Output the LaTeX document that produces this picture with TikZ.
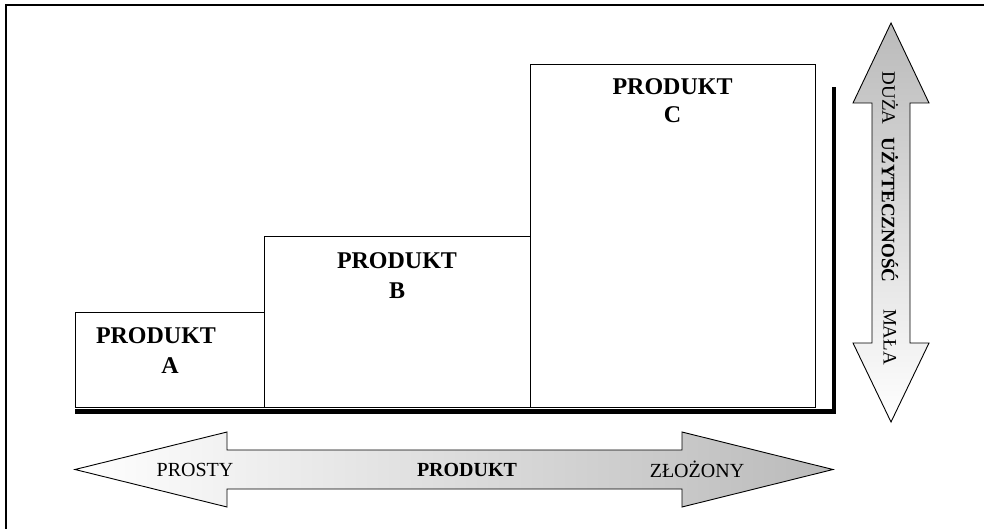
\documentclass[tikz,border=0pt]{standalone}
\usepackage{fontspec}
\setmainfont{Liberation Serif}
\usetikzlibrary{positioning}

\begin{document}
\begin{tikzpicture}[
  x=1pt, y=-1pt,
  prod/.style={draw, line width=0.9pt, inner sep=0pt, outer sep=0pt, anchor=south west},
  etyk/.style={anchor=north, inner sep=0pt, align=center, font=\fontsize{24}{30}\selectfont\bfseries},
  opis/.style={inner sep=0pt, font=\fontsize{20}{24}\selectfont},
  pion/.style={inner sep=0pt, rotate=-90, font=\fontsize{19}{22}\selectfont},
  strz/.style={draw, line width=0.9pt, line join=miter},
  os/.style={line width=4.5pt}
]
\useasboundingbox (0,0) rectangle (984,529);

% ramka (przycieta)
\draw[line width=1.5pt] (6,529) -- (6,5) -- (984,5);

% produkty
\node[prod, minimum width=189pt, minimum height=95pt] (pa) at (75,407) {};
\node[prod, minimum width=266pt, minimum height=171pt] (pb) at (264,407) {};
\node[prod, minimum width=285pt, minimum height=343pt] (pc) at (530,407) {};

\node[etyk] (ta) at (156,327) {PRODUKT\\\hspace*{28pt}A};
\node[etyk] (tb) at (pb.north |- 0,252) {PRODUKT\\B};
\node[etyk, font=\fontsize{24}{28}\selectfont\bfseries] (tc) at (pc.north |- 0,78) {PRODUKT\\C};

% os
\coordinate (o0) at (75,411.5);
\coordinate (o1) at (834,411.5);
\coordinate (o2) at (834,87);
\draw[os] (o0) -- (o1) -- (o2);

% strzalka pozioma
\shade[strz, left color=white, right color=black!27]
  (75,469.5) -- (227,432) -- (227,450) -- (682,450) -- (682,432) -- (833,469.5)
  -- (682,507) -- (682,489) -- (227,489) -- (227,507) -- cycle;
\node[opis] (prosty) at (195,469.5) {PROSTY};
\node[opis, font=\fontsize{20}{24}\selectfont\bfseries] (produkt) at (467,469.5) {PRODUKT};
\node[opis] (zlozony) at (697,469.5) {ZŁOŻONY};

% strzalka pionowa
\shade[strz, top color=black!27, bottom color=white]
  (891,23) -- (929,103) -- (910,103) -- (910,343) -- (929,343) -- (891,422)
  -- (853,343) -- (872,343) -- (872,103) -- (853,103) -- cycle;
\node[pion] (duza) at (890,98) {DUŻA};
\node[pion, font=\fontsize{19}{22}\selectfont\bfseries] (uzyt) at (890,210) {UŻYTECZNOŚĆ};
\node[pion] (mala) at (890,337) {MAŁA};
\end{tikzpicture}
\end{document}
